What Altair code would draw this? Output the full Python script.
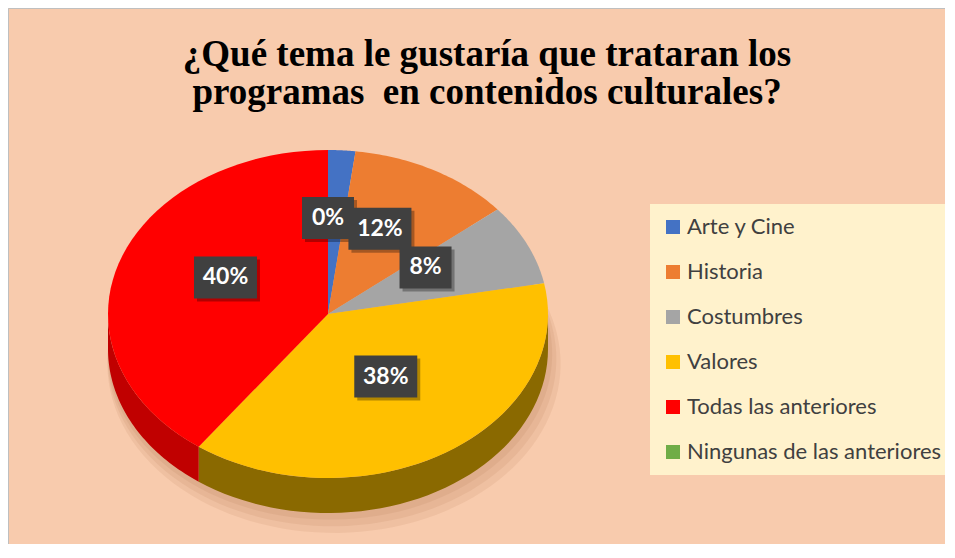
import altair as alt
import pandas as pd

# ---- data ----
CATS = ["Arte y Cine", "Historia", "Costumbres", "Valores",
        "Todas las anteriores", "Ningunas de las anteriores"]
VALUES = [2, 12, 8, 38, 40, 0]
COLORS = ["#4472C4", "#ED7D31", "#A5A5A5", "#FFC000", "#FF0000", "#70AD47"]
SIDE_COLORS = ["#2F5597", "#C55A11", "#7F7F7F", "#8A6900", "#C00000", "#507E32"]
TITLE_LINES = ["¿Qué tema le gustaría que trataran los",
               "programas\u00a0 en contenidos culturales?"]
HIDDEN_LABELS = ["Arte y Cine"]  # its label sits under the 0% box in the reference

# ---- layout ----
W, H = 937, 536
CX, CY, RX, RY, DEPTH = 320, 306, 220, 164, 35
N = 48
SHADOWS = [(2, 5, 1.01), (4, 10, 1.02), (6, 15, 1.03)]

df = pd.DataFrame({"cat": CATS, "val": VALUES, "ord": list(range(len(CATS))),
                   "side": SIDE_COLORS})
title_df = pd.DataFrame({"line": TITLE_LINES, "n": list(range(len(TITLE_LINES)))})

xs = alt.Scale(domain=[0, W], range=[0, W])
ys = alt.Scale(domain=[0, H], range=[0, H])
X = lambda f: alt.X(f, scale=xs, axis=None)
Y = lambda f: alt.Y(f, scale=ys, axis=None)

base = (alt.Chart(df)
        .transform_joinaggregate(total="sum(val)")
        .transform_window(cum="sum(val)", sort=[alt.SortField("ord")], frame=[None, 0])
        .transform_calculate(a0="2*PI*(datum.cum-datum.val)/datum.total")
        .transform_calculate(a1="2*PI*datum.cum/datum.total"))

wedges = (base.transform_filter("datum.val > 0")
          .transform_calculate(seq=f"sequence(0, {N + 2})")
          .transform_flatten(["seq"], as_=["i"])
          .transform_calculate(t=f"datum.a0 + (datum.a1-datum.a0)*(datum.i-1)/{N}"))

# soft shadow under the pie
shadow_layers = []
for dx, dy, k in SHADOWS:
    shadow_layers.append(
        wedges
        .transform_calculate(px=f"datum.i == 0 ? {CX + dx} : {CX + dx} + {RX * k}*sin(datum.t)")
        .transform_calculate(py=f"datum.i == 0 ? {CY + DEPTH + dy} : {CY + DEPTH + dy} - {RY * k}*cos(datum.t)")
        .mark_line(filled=True, strokeWidth=0, color="#7A3A10", opacity=0.07)
        .encode(x=X("px:Q"), y=Y("py:Q"), order=alt.Order("i:Q"), detail="cat:N"))

# top faces of the wedges (elliptical pie)
top = (wedges
       .transform_calculate(px=f"datum.i == 0 ? {CX} : {CX} + {RX}*sin(datum.t)")
       .transform_calculate(py=f"datum.i == 0 ? {CY} : {CY} - {RY}*cos(datum.t)")
       .mark_line(filled=True, strokeWidth=0)
       .encode(
           x=X("px:Q"), y=Y("py:Q"),
           color=alt.Color("cat:N", scale=alt.Scale(domain=CATS, range=COLORS),
                           legend=alt.Legend(
                               title=None, orient="none", legendX=642, legendY=196,
                               symbolType="square", symbolSize=196, symbolStrokeWidth=0,
                               symbolOpacity=1,
                               labelFont="Lato", labelFontSize=22, labelColor="#404040",
                               labelOffset=3, labelLimit=400, rowPadding=23, padding=12,
                               fillColor="#FFF2CC")),
           order=alt.Order("i:Q"),
           detail="cat:N"))

# visible front side walls
side = (base.transform_calculate(b0="max(datum.a0, PI/2)")
        .transform_calculate(b1="min(datum.a1, 3*PI/2)")
        .transform_filter("datum.b1 > datum.b0")
        .transform_calculate(seq=f"sequence(0, {2 * N + 2})")
        .transform_flatten(["seq"], as_=["i"])
        .transform_calculate(t=f"datum.i <= {N} ? datum.b0 + (datum.b1-datum.b0)*datum.i/{N} : datum.b1 - (datum.b1-datum.b0)*(datum.i-{N + 1})/{N}")
        .transform_calculate(dz=f"datum.i <= {N} ? 0 : {DEPTH}")
        .transform_calculate(px=f"{CX} + {RX}*sin(datum.t)")
        .transform_calculate(py=f"{CY} - {RY}*cos(datum.t) + datum.dz")
        .mark_line(filled=True, strokeWidth=0)
        .encode(x=X("px:Q"), y=Y("py:Q"),
                fill=alt.Fill("side:N", scale=None),
                order=alt.Order("i:Q"), detail="cat:N"))

# data labels
lab = (base.transform_filter(~alt.FieldOneOfPredicate(field="cat", oneOf=HIDDEN_LABELS))
       .transform_calculate(m="(datum.a0+datum.a1)/2")
       .transform_calculate(lx=f"{CX} + 0.49*{RX}*sin(datum.m)")
       .transform_calculate(ly=f"{CY} - 10 - 0.524*{RY}*cos(datum.m)")
       .transform_calculate(txt="format(datum.val/datum.total, '.0%')")
       .transform_calculate(w="length(datum.txt) >= 3 ? 63 : 52")
       .transform_calculate(bx1="datum.lx - datum.w/2", bx2="datum.lx + datum.w/2",
                            by1="datum.ly - 21", by2="datum.ly + 21")
       .transform_calculate(sx1="datum.bx1 + 3", sx2="datum.bx2 + 3",
                            sy1="datum.by1 + 3", sy2="datum.by2 + 3"))

lshadow = lab.mark_rect(color="black", opacity=0.3).encode(
    x=X("sx1:Q"), x2="sx2:Q", y=Y("sy1:Q"), y2="sy2:Q")
boxes = lab.mark_rect(color="#404040").encode(
    x=X("bx1:Q"), x2="bx2:Q", y=Y("by1:Q"), y2="by2:Q")
texts = lab.mark_text(font="Lato", fontWeight="bold", fontSize=23, color="white",
                      align="center", baseline="middle").encode(
    x=X("lx:Q"), y=Y("ly:Q"), text="txt:N")

title = (alt.Chart(title_df)
         .transform_calculate(tx="479", ty="58 + 38*datum.n")
         .mark_text(font="Liberation Serif", fontWeight="bold", fontSize=37,
                    color="black", align="center", baseline="alphabetic")
         .encode(x=X("tx:Q"), y=Y("ty:Q"), text="line:N"))

chart = (alt.layer(*shadow_layers, side, top, lshadow, boxes, texts, title)
         .properties(width=W, height=H, background="#F8CBAD", padding=0, autosize="none")
         .configure_view(stroke="#BFBFBF", strokeWidth=1))

chart.save("out.html", embed_options={"renderer": "svg", "actions": False})
